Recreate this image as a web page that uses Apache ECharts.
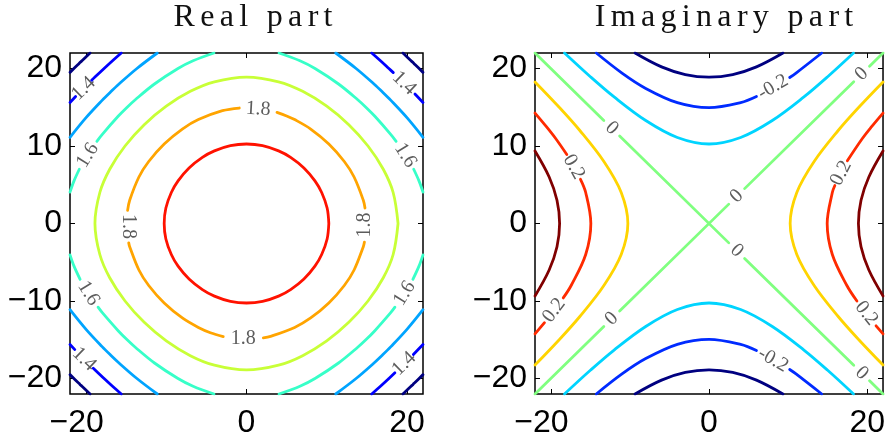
<!DOCTYPE html>
<html>
<head>
<meta charset="utf-8">
<script src="https://cdn.jsdelivr.net/npm/echarts@6.0.0/dist/echarts.min.js"></script>
<style>
  html, body { margin: 0; padding: 0; background: #fff; }
  #chart { width: 888px; height: 441px; }
</style>
</head>
<body>
<div id="chart"></div>
<script>
// axes
var axisRange = [-22, 22];
var xTicks = [-20, 0, 20];
var yTicks = [-20, -10, 0, 10, 20];
var titles = ['Real part', 'Imaginary part'];

// ---- real part: contour levels, jet colours, lines ----
var realLevels = [1.3, 1.4, 1.5, 1.6, 1.7, 1.8, 1.9];
var realColors = ['#000080', '#0000ff', '#00a4ff', '#37ffc8', '#c8ff37', '#ffa400', '#ff1200'];

var re13 = [
  [[19.5, 22], [20.51, 21], [20.76, 20.76], [21, 20.51], [22, 19.5]],
  [[-19.5, 22], [-20.51, 21], [-20.76, 20.76], [-21, 20.51], [-22, 19.5]],
  [[-19.5, -22], [-20.51, -21], [-20.76, -20.76], [-21, -20.51], [-22, -19.5]],
  [[19.5, -22], [20.51, -21], [20.76, -20.76], [21, -20.51], [22, -19.5]]
];
var re14 = [
  [[15.61, 22], [16.7, 21], [17.75, 20], [18.3, 19.47]],
  [[21, 16.7], [22, 15.61]],
  [[-15.61, 22], [-16.7, 21], [-17.75, 20], [-18.89, 18.89], [-19.3, 18.47]],
  [[-21.3, 16.38], [-22, 15.61]],
  [[-15.61, -22], [-16.7, -21], [-17.75, -20], [-19.1, -18.67]],
  [[-21.4, -16.27], [-22, -15.61]],
  [[15.61, -22], [16.7, -21], [17.75, -20], [18.5, -19.27]],
  [[20.8, -16.91], [22, -15.61]]
];
var re15 = [
  [[11.12, 22], [13.66, 20], [15.89, 18], [16.96, 16.96], [18, 15.89], [20, 13.66], [22, 11.12]],
  [[-11.12, 22], [-13.66, 20], [-15.89, 18], [-16.96, 16.96], [-18, 15.89], [-20, 13.66], [-22, 11.12]],
  [[-11.12, -22], [-13.66, -20], [-15.89, -18], [-16.96, -16.96], [-18, -15.89], [-20, -13.66], [-22, -11.12]],
  [[11.12, -22], [13.66, -20], [15.89, -18], [16.96, -16.96], [18, -15.89], [20, -13.66], [22, -11.12]]
];
var re16 = [
  [[4.05, 22], [6.66, 21], [8.54, 20], [11.47, 18], [13.83, 16], [14.94, 14.94], [16, 13.83], [18, 11.47], [18.65, 10.6]],
  [[20.84, 7], [21.5, 5.5], [22, 4.05]],
  [[-4.05, 22], [-6.66, 21], [-8.54, 20], [-11.47, 18], [-13.83, 16], [-14.94, 14.94], [-16, 13.83], [-18, 11.47], [-18.65, 10.6]],
  [[-20.84, 7], [-21.5, 5.5], [-22, 4.05]],
  [[-4.05, -22], [-6.66, -21], [-8.54, -20], [-11.47, -18], [-13.83, -16], [-14.94, -14.94], [-16, -13.83], [-18, -11.47], [-18.5, -10.8]],
  [[-20.74, -7.2], [-21.5, -5.5], [-22, -4.05]],
  [[4.05, -22], [6.66, -21], [8.54, -20], [11.47, -18], [13.83, -16], [14.94, -14.94], [16, -13.83], [18, -11.47], [18.5, -10.8]],
  [[20.74, -7.2], [21.5, -5.5], [22, -4.05]]
];
var re17 = [
  [[18.89, 0], [18.28, 4], [17.05, 7], [15.14, 10], [12.75, 12.75], [10, 15.14], [7, 17.05], [4, 18.28], [0, 18.89],
   [-4, 18.28], [-7, 17.05], [-10, 15.14], [-12.75, 12.75], [-15.14, 10], [-17.05, 7], [-18.28, 4], [-18.89, 0],
   [-18.28, -4], [-17.05, -7], [-15.14, -10], [-12.75, -12.75], [-10, -15.14], [-7, -17.05], [-4, -18.28], [0, -18.89],
   [4, -18.28], [7, -17.05], [10, -15.14], [12.75, -12.75], [15.14, -10], [17.05, -7], [18.28, -4], [18.89, 0]]
];
var re18 = [
  [[3.8, 14.33], [5, 13.88], [6, 13.41], [8, 12.19], [10.26, 10.26], [12.19, 8], [13.41, 6], [14.56, 3], [14.77, 2]],
  [[14.7, -2.4], [14.56, -3], [13.41, -6], [12.19, -8], [10.26, -10.26], [8, -12.19], [6, -13.41], [3, -14.56], [2.1, -14.75]],
  [[-2.9, -14.59], [-4.5, -14.09], [-6, -13.41], [-8, -12.19], [-10.26, -10.26], [-12.19, -8], [-13.41, -6], [-14.56, -3], [-14.68, -2.5]],
  [[-14.82, 1.7], [-14.56, 3], [-13.41, 6], [-12.19, 8], [-10.26, 10.26], [-8, 12.19], [-6, 13.41], [-3, 14.56], [-0.9, 14.9]]
];
var re19 = [
  [[10.26, 0], [10.05, 2], [9.37, 4], [8.53, 5.5], [7.16, 7.16], [5.5, 8.53], [4, 9.37], [2, 10.05], [0, 10.26],
   [-2, 10.05], [-4, 9.37], [-5.5, 8.53], [-7.16, 7.16], [-8.53, 5.5], [-9.37, 4], [-10.05, 2], [-10.26, 0],
   [-10.05, -2], [-9.37, -4], [-8.53, -5.5], [-7.16, -7.16], [-5.5, -8.53], [-4, -9.37], [-2, -10.05], [0, -10.26],
   [2, -10.05], [4, -9.37], [5.5, -8.53], [7.16, -7.16], [8.53, -5.5], [9.37, -4], [10.05, -2], [10.26, 0]]
];
var realContours = [re13, re14, re15, re16, re17, re18, re19];

// clabel text: [text, x, y, rotation]
var reLabels = [
  ['1.8', 1.45, 14.75, -3], ['1.8', -0.4, -14.9, 0], ['1.8', -14.8, -0.4, -90], ['1.8', 14.75, -0.2, 90],
  ['1.6', -19.8, 8.8, 58], ['1.6', 19.8, 8.8, -58], ['1.6', -19.7, -9.0, -58], ['1.6', 19.7, -9.0, 58],
  ['1.4', -20.3, 17.4, 44], ['1.4', 19.65, 18.1, -44], ['1.4', -20.25, -17.5, -44], ['1.4', 19.65, -18.1, 44]
];

// ---- imaginary part ----
var imagLevels = [-0.3, -0.2, -0.1, 0, 0.1, 0.2, 0.3];
var imagColors = ['#000080', '#002bff', '#00d4ff', '#80ff80', '#ffd400', '#ff2b00', '#800000'];

var imM3 = [
  [[-9.35, 22], [-6, 20.21], [-3, 19.22], [0, 18.89], [3, 19.22], [6, 20.21], [9.35, 22]],
  [[-9.35, -22], [-6, -20.21], [-3, -19.22], [0, -18.89], [3, -19.22], [6, -20.21], [9.35, -22]]
];
var imM2 = [
  [[-14.25, 22], [-11, 19.41], [-8, 17.43], [-4, 15.59], [0, 14.94], [4, 15.59], [6, 16.38]],
  [[10.2, 18.84], [11, 19.41], [14.25, 22]],
  [[-14.25, -22], [-11, -19.41], [-8, -17.43], [-4, -15.59], [0, -14.94], [4, -15.59], [6, -16.38]],
  [[10.2, -18.84], [11, -19.41], [14.25, -22]]
];
var imM1 = [
  [[-18.27, 22], [-15, 18.94], [-12, 16.33], [-8, 13.29], [-4, 11.1], [0, 10.26], [4, 11.1], [8, 13.29], [12, 16.33], [15, 18.94], [18.27, 22]],
  [[-18.27, -22], [-15, -18.94], [-12, -16.33], [-8, -13.29], [-4, -11.1], [0, -10.26], [4, -11.1], [8, -13.29], [12, -16.33], [15, -18.94], [18.27, -22]]
];
var im0 = [
  [[-22, 22], [-13.3, 13.3]], [[-11.3, 11.3], [2.5, -2.5]], [[4.5, -4.5], [18.3, -18.3]], [[20.3, -20.3], [22, -22]],
  [[-22, -22], [-13.3, -13.3]], [[-11.3, -11.3], [2.5, 2.5]], [[4.5, 4.5], [18.3, 18.3]], [[20.3, 20.3], [22, 22]]
];
var imP1 = [
  [[22, 18.27], [18.94, 15], [16.33, 12], [13.29, 8], [11.1, 4], [10.26, 0], [11.1, -4], [13.29, -8], [16.33, -12], [18.94, -15], [22, -18.27]],
  [[-22, 18.27], [-18.94, 15], [-16.33, 12], [-13.29, 8], [-11.1, 4], [-10.26, 0], [-11.1, -4], [-13.29, -8], [-16.33, -12], [-18.94, -15], [-22, -18.27]]
];
var imP2 = [
  [[22, 14.25], [20.56, 12.5], [19.41, 11], [17.49, 8.1]],
  [[15.91, 4.9], [15.59, 4], [14.94, 0], [15.59, -4], [17.43, -8], [18.7, -10]],
  [[21.12, -13.2], [22, -14.25]],
  [[-22, 14.25], [-20.56, 12.5], [-19.41, 11], [-17.98, 8.9]],
  [[-16.25, 5.7], [-15.59, 4], [-14.94, 0], [-15.59, -4], [-17.43, -8], [-18.43, -9.6]],
  [[-20.8, -12.8], [-22, -14.25]]
];
var imP3 = [
  [[22, 9.35], [20.21, 6], [19.22, 3], [18.89, 0], [19.22, -3], [20.21, -6], [22, -9.35]],
  [[-22, 9.35], [-20.21, 6], [-19.22, 3], [-18.89, 0], [-19.22, -3], [-20.21, -6], [-22, -9.35]]
];
var imagContours = [imM3, imM2, imM1, im0, imP1, imP2, imP3];

var imLabels = [
  ['0', -12.3, 12.3, -44], ['0', 3.5, -3.5, -44], ['0', 19.3, -19.3, -44],
  ['0', -12.3, -12.3, 44], ['0', 3.5, 3.5, 44], ['0', 19.3, 19.3, 44],
  ['-0.2', 8.1, 17.6, 30], ['-0.2', 8.1, -17.6, -30],
  ['0.2', 16.7, 6.5, 63], ['0.2', 19.9, -11.6, -52],
  ['0.2', -17.1, 7.3, -61], ['0.2', -19.6, -11.2, 53]
];

var sansFont = 'Liberation Sans, Arial, sans-serif';
var serifFont = 'Liberation Serif, Times New Roman, serif';

function tickText(v) {
  return v < 0 ? '\u2212' + (-v) : String(v);
}

function makeAxes(gi) {
  var base = {
    type: 'value', gridIndex: gi, min: axisRange[0], max: axisRange[1],
    axisLine: {show: false, onZero: false}, splitLine: {show: false}
  };
  var xb = echarts.util.merge({
    position: 'bottom',
    axisTick: {inside: true, length: 5, customValues: xTicks, lineStyle: {color: '#000', width: 1}},
    axisLabel: {
      customValues: xTicks, fontSize: 32, fontFamily: sansFont, color: '#000', margin: 13,
      // digits centred on the tick, minus sign hangs to the left
      formatter: function (v) { return v < 0 ? '\u2212' + (-v) + '{pad|\u2212}' : String(v); },
      rich: {pad: {color: 'rgba(0,0,0,0)', fontSize: 32, fontFamily: sansFont}}
    }
  }, base, true);
  var xt = echarts.util.merge({
    position: 'top',
    axisTick: {inside: true, length: 5, customValues: xTicks, lineStyle: {color: '#000', width: 1}},
    axisLabel: {show: false}
  }, base, true);
  var yl = echarts.util.merge({
    position: 'left',
    axisTick: {inside: true, length: 5, customValues: yTicks, lineStyle: {color: '#000', width: 1}},
    axisLabel: {customValues: yTicks, fontSize: 32, fontFamily: sansFont, color: '#000', margin: 8, formatter: tickText}
  }, base, true);
  var yr = echarts.util.merge({
    position: 'right',
    axisTick: {inside: true, length: 5, customValues: yTicks, lineStyle: {color: '#000', width: 1}},
    axisLabel: {show: false}
  }, base, true);
  return {x: [xb, xt], y: [yl, yr]};
}

var ax0 = makeAxes(0);
var ax1 = makeAxes(1);

function contourSeries(contours, colors, xi, yi) {
  var out = [];
  contours.forEach(function (segs, i) {
    segs.forEach(function (seg) {
      out.push({
        type: 'line', xAxisIndex: xi, yAxisIndex: yi, data: seg,
        showSymbol: false, smooth: 0.35, silent: true, clip: true,
        lineStyle: {color: colors[i], width: 2.8, cap: 'round', join: 'round'},
        itemStyle: {color: colors[i]}
      });
    });
  });
  return out;
}

function labelSeries(labels, xi, yi) {
  return {
    type: 'scatter', xAxisIndex: xi, yAxisIndex: yi, symbolSize: 1, silent: true,
    itemStyle: {color: 'rgba(0,0,0,0)'},
    label: {show: true, position: 'inside', formatter: '{b}', fontFamily: serifFont, fontSize: 20, color: '#333'},
    data: labels.map(function (l) {
      return {name: l[0], value: [l[1], l[2]], label: {rotate: l[3]}};
    })
  };
}

// the titles are letter-spaced in the original
function spaced(s) {
  return s.split('').join('\u2006');
}

var series = []
  .concat(contourSeries(realContours, realColors, 0, 0))
  .concat(contourSeries(imagContours, imagColors, 2, 2));
series.push(labelSeries(reLabels, 0, 0));
series.push(labelSeries(imLabels, 2, 2));

var myChart = echarts.init(document.getElementById('chart'), null, {renderer: 'canvas'});
myChart.setOption({
  animation: false,
  backgroundColor: '#fff',
  grid: [
    {left: 70, top: 53, width: 353, height: 341, show: true, borderColor: '#000', borderWidth: 1.5, backgroundColor: '#fff'},
    {left: 535, top: 53, width: 352, height: 341, show: true, borderColor: '#000', borderWidth: 1.5, backgroundColor: '#fff'}
  ],
  xAxis: ax0.x.concat(ax1.x),
  yAxis: ax0.y.concat(ax1.y),
  graphic: [
    {type: 'text', x: 253, y: 18, style: {text: spaced(titles[0]), fontSize: 32, fontFamily: serifFont, fill: '#111',
      align: 'center', verticalAlign: 'middle', textAlign: 'center', textVerticalAlign: 'middle'}},
    {type: 'text', x: 724, y: 18, style: {text: spaced(titles[1]), fontSize: 32, fontFamily: serifFont, fill: '#111',
      align: 'center', verticalAlign: 'middle', textAlign: 'center', textVerticalAlign: 'middle'}}
  ],
  series: series
});
</script>
</body>
</html>
